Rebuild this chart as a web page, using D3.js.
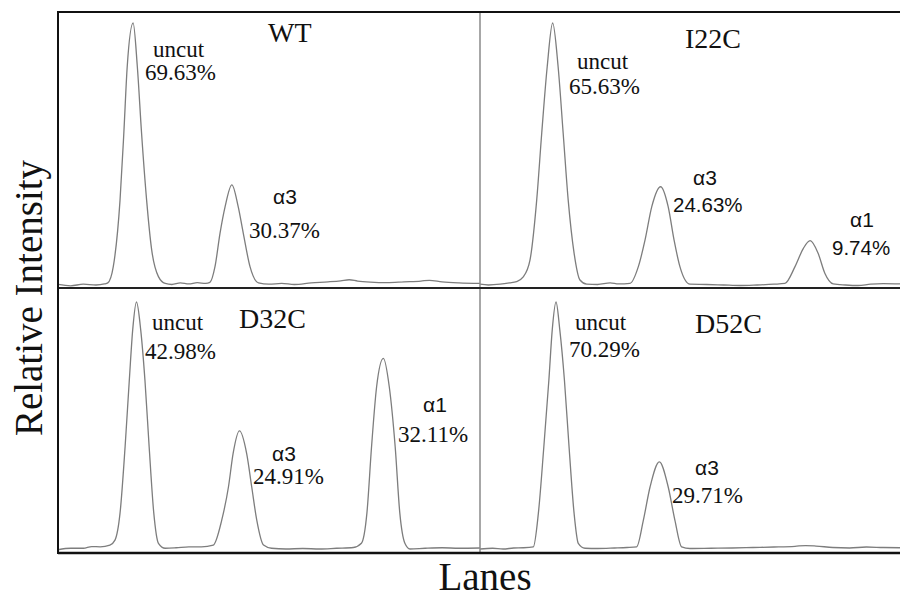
<!DOCTYPE html>
<html>
<head>
<meta charset="utf-8">
<script src="https://cdnjs.cloudflare.com/ajax/libs/d3/7.8.5/d3.min.js"></script>
<style>
  body { margin: 0; background: #fff; }
  svg { display: block; }
</style>
</head>
<body>
<svg id="chartArea"></svg>
<script>
// densitometry traces, x = lane position (0-100), y = relative intensity (0-100)
const panelNames = ["WT", "I22C", "D32C", "D52C"];

const wtTrace = [
  [0, 0.2], [3, -0.3], [6, 0.3], [9, 0], [11, 0.4], [11.8, 0.8], [13.1, 7], [14.7, 32.4],
  [15.6, 58], [16.4, 83.3], [17.8, 100], [18.8, 83.3], [19.8, 58], [21, 32.4], [22.2, 13.4],
  [23.8, 3.2], [25.4, 0.6], [27, 0.2], [29, 0.8], [31, 0.4], [33, 0.9], [35, 0.6], [36, 1],
  [37.2, 7], [38.4, 19.8], [39.6, 29.9], [41.2, 38.2], [42.7, 29.9], [43.9, 19.8], [45.5, 7],
  [47.5, 0.8], [50, 0.3], [53, 0.6], [56, 0.2], [60, 0.8], [64, 1.2], [67, 1.6], [69, 2],
  [71, 1.5], [74, 1.1], [78, 0.9], [82, 1.2], [86, 1.5], [88, 1.8], [91, 1.2], [95, 0.8], [100, 0.6]
];
const i22cTrace = [
  [0, 0.3], [2, 0], [4.8, 0.3], [7, 0.8], [8.7, 1.3], [10.3, 3.1], [11.9, 9.5], [13.5, 32.4],
  [14.7, 58], [16, 83.3], [17.3, 100], [18.6, 83.3], [19.8, 58], [21, 32.4], [22.4, 12.2],
  [23.8, 1.9], [25.4, 0.3], [28, 0.2], [31, 0.8], [33, 0.4], [35.7, 0.6], [37.7, 7], [39.3, 17.2],
  [40.9, 29.9], [43, 37.5], [44.8, 29.9], [46.2, 17.2], [47.6, 7], [50, 0.3], [54, 0.2], [58, 0],
  [62, -0.2], [66, 0], [70, 0.3], [72.6, 0.6], [75, 7], [77, 14], [78.6, 16.9], [80.5, 12.1],
  [82.1, 4.5], [84.1, 0.4], [87, 0], [90, -0.2], [93, 0.3], [96, 0.5], [100, 0.4]
];
const d32cTrace = [
  [0, -0.3], [3, 0.3], [6, 0.3], [8, 1], [10, 0.9], [12.3, 1.6], [13.5, 3.6], [14.7, 14.5],
  [15.9, 41.4], [16.9, 68.4], [17.7, 88.7], [18.6, 100], [19.6, 88.7], [20.6, 68.4], [21.6, 41.4],
  [22.7, 14.5], [23.8, 2.3], [25.4, 0.3], [28, 0.5], [31, 0.9], [34, 0.9], [36.8, 1.6], [38.8, 11.7],
  [40.4, 25.2], [41.5, 38.7], [43, 47.8], [44.7, 38.7], [45.9, 25.2], [47.1, 11.7], [48.7, 1.6],
  [50.6, 0.3], [54, 0], [58, 0.2], [62, 0], [66, 0.3], [70, 0.6], [71.9, 2.3], [73.2, 14.5],
  [74.3, 41.4], [75.5, 65.7], [77.1, 77.2], [78.5, 65.7], [79.9, 41.4], [81, 14.5], [82.2, 2.3],
  [83.4, 0], [87, 0.3], [91, 0.5], [95, 0.3], [100, 0.4]
];
const d52cTrace = [
  [0, 0], [3, 0.3], [5.5, 0], [8, 0.4], [10.3, 0.5], [12.7, 0.9], [13.9, 14.5], [15.2, 41.4],
  [16.4, 68.4], [17.2, 88.7], [18.1, 100], [19, 88.7], [20.1, 68.4], [21.2, 41.4], [22.4, 14.5],
  [23.4, 2.3], [25, 0.3], [28, 0.2], [32, 0.4], [35, 0.6], [37.3, 0.9], [38.9, 11.7], [40.5, 25.2],
  [42.7, 35.3], [44.8, 25.2], [46.4, 11.7], [48, 0.9], [50, 0.2], [55, 0.3], [60, 0.4], [65, 0.6],
  [70, 0.8], [75, 1.1], [77.5, 1.4], [80, 1.2], [84, 0.6], [88, 0.4], [92, 0.8], [96, 0.6], [100, 0.5]
];

// band names and percentages per panel
const bandNames = [
  ["uncut", "α3"],
  ["uncut", "α3", "α1"],
  ["uncut", "α3", "α1"],
  ["uncut", "α3"]
];
const bandPercents = [
  ["69.63%", "30.37%"],
  ["65.63%", "24.63%", "9.74%"],
  ["42.98%", "24.91%", "32.11%"],
  ["70.29%", "29.71%"]
];

const traces = [wtTrace, i22cTrace, d32cTrace, d52cTrace];

// layout (panel-local pixel offsets)
const width = 901,
  height = 600,
  frameLeft = 58,
  frameMid = 480,
  frameRight = 900,
  frameTop = 12,
  frameMidY = 288,
  frameBottom = 553;

const serif = "'Times New Roman', 'Liberation Serif', serif",
  sans = "Arial, 'Liberation Sans', sans-serif";

const panels = [
  { x0: frameLeft, x1: frameMid, y0: frameTop, base: 285, peak: 23 },
  { x0: frameMid, x1: frameRight, y0: frameTop, base: 285, peak: 23 },
  { x0: frameLeft, x1: frameMid, y0: frameMidY, base: 549, peak: 302 },
  { x0: frameMid, x1: frameRight, y0: frameMidY, base: 549, peak: 302 }
];

const titlePos = [[210, 30], [205, 36], [181, 40], [215, 45]];
const namePos = [
  [[95, 45], [215, 192]],
  [[97, 57], [213, 173], [370, 215]],
  [[94, 42], [214, 173], [365, 124]],
  [[95, 42], [215, 187]]
];
const pctPos = [
  [[87, 68], [191, 226]],
  [[89, 82], [193, 200], [352, 243]],
  [[87, 71], [195, 196], [340, 154]],
  [[89, 69], [192, 215]]
];
const sansPct = { "24.63%": true, "9.74%": true };

const svg = d3.select("#chartArea").attr("width", width).attr("height", height);

panels.forEach((p, i) => {
  const x = d3.scaleLinear().domain([0, 100]).range([p.x0, p.x1]);
  const y = d3.scaleLinear().domain([0, 100]).range([p.base, p.peak]);
  const line = d3
    .line()
    .x(d => x(d[0]))
    .y(d => y(d[1]))
    .curve(d3.curveMonotoneX);

  svg
    .append("path")
    .datum(traces[i])
    .attr("d", line)
    .attr("fill", "none")
    .attr("stroke", "#7d7d7d")
    .attr("stroke-width", 1.3);

  const g = svg.append("g").attr("transform", "translate(" + p.x0 + "," + p.y0 + ")");

  g.append("text")
    .attr("x", titlePos[i][0])
    .attr("y", titlePos[i][1])
    .style("font-family", serif)
    .style("font-size", "28px")
    .attr("fill", "#111")
    .text(panelNames[i]);

  bandNames[i].forEach((name, j) => {
    g.append("text")
      .attr("x", namePos[i][j][0])
      .attr("y", namePos[i][j][1])
      .style("font-family", name === "uncut" ? serif : sans)
      .style("font-size", name === "uncut" ? "23px" : "21px")
      .attr("fill", "#111")
      .text(name);

    const pct = bandPercents[i][j];
    g.append("text")
      .attr("x", pctPos[i][j][0])
      .attr("y", pctPos[i][j][1])
      .style("font-family", sansPct[pct] ? sans : serif)
      .style("font-size", sansPct[pct] ? "20.5px" : "23px")
      .attr("fill", "#111")
      .text(pct);
  });
});

// frame
svg.append("line")
  .attr("x1", frameMid).attr("x2", frameMid).attr("y1", frameTop).attr("y2", frameBottom)
  .attr("stroke", "#8a8a8a").attr("stroke-width", 1.5);
svg.append("line")
  .attr("x1", frameLeft).attr("x2", frameRight).attr("y1", frameTop).attr("y2", frameTop)
  .attr("stroke", "#111").attr("stroke-width", 2);
svg.append("line")
  .attr("x1", frameLeft).attr("x2", frameRight).attr("y1", frameMidY).attr("y2", frameMidY)
  .attr("stroke", "#222").attr("stroke-width", 2);
svg.append("line")
  .attr("x1", frameLeft).attr("x2", frameRight).attr("y1", frameBottom).attr("y2", frameBottom)
  .attr("stroke", "#111").attr("stroke-width", 2.5);
svg.append("line")
  .attr("x1", frameLeft).attr("x2", frameLeft).attr("y1", frameTop - 1).attr("y2", frameBottom + 1)
  .attr("stroke", "#111").attr("stroke-width", 2);

// axis titles
svg.append("text")
  .attr("transform", "translate(42,298) rotate(-90)")
  .attr("text-anchor", "middle")
  .style("font-family", serif)
  .style("font-size", "39px")
  .attr("fill", "#111")
  .text("Relative Intensity");

svg.append("text")
  .attr("x", 485)
  .attr("y", 590)
  .attr("text-anchor", "middle")
  .style("font-family", serif)
  .style("font-size", "39px")
  .attr("fill", "#111")
  .text("Lanes");
</script>
</body>
</html>
